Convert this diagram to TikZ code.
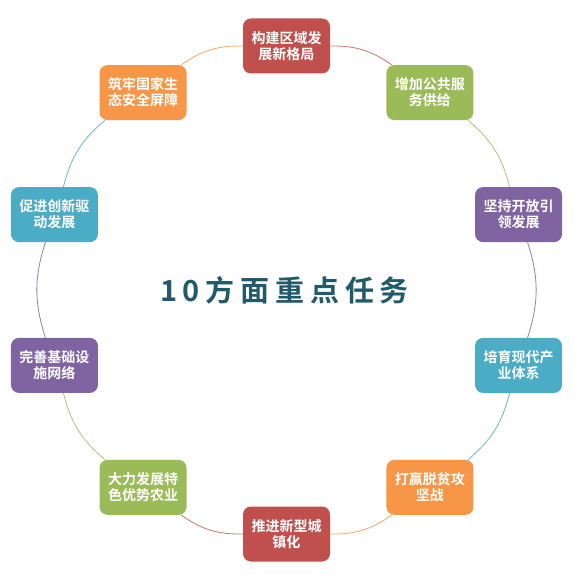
\documentclass[tikz,border=0pt]{standalone}
\usepackage{fontspec}
\newfontfamily\cjk{Noto Sans CJK SC}
\newfontfamily\cjkb{Noto Sans CJK SC Bold}
\definecolor{cred}{HTML}{C0504D}
\definecolor{cgreen}{HTML}{9BBB59}
\definecolor{cpurple}{HTML}{8064A2}
\definecolor{cteal}{HTML}{4BACC6}
\definecolor{corange}{HTML}{F79646}
\definecolor{ctitle}{HTML}{215A6A}
\begin{document}
\begin{tikzpicture}[x=1pt,y=1pt,
  taskbox/.style={rounded corners=8pt, minimum width=87pt, minimum height=55pt,
    inner sep=2pt, align=center, text=white, font=\cjkb\fontsize{14}{16}\selectfont},
  link/.style={line width=0.8pt, bend left=18}]
\useasboundingbox (-286.5,-285) rectangle (288.5,290);
\node[taskbox, fill=cred]    (n1)  at (90:244)  {构建区域发\\展新格局};
\node[taskbox, fill=cgreen]  (n2)  at (54:244)  {增加公共服\\务供给};
\node[taskbox, fill=cpurple] (n3)  at (18:244)  {坚持开放引\\领发展};
\node[taskbox, fill=cteal]   (n4)  at (-18:244) {培育现代产\\业体系};
\node[taskbox, fill=corange] (n5)  at (-54:244) {打赢脱贫攻\\坚战};
\node[taskbox, fill=cred]    (n6)  at (-90:244) {推进新型城\\镇化};
\node[taskbox, fill=cgreen]  (n7)  at (-126:244) {大力发展特\\色优势农业};
\node[taskbox, fill=cpurple] (n8)  at (-162:244) {完善基础设\\施网络};
\node[taskbox, fill=cteal]   (n9)  at (162:244) {促进创新驱\\动发展};
\node[taskbox, fill=corange] (n10) at (126:244) {筑牢国家生\\态安全屏障};
\draw[link, cred!80]    (n1) to (n2);
\draw[link, cgreen!85]  (n2) to (n3);
\draw[link, cpurple!85] (n3) to (n4);
\draw[link, cteal!85]   (n4) to (n5);
\draw[link, corange!85] (n5) to (n6);
\draw[link, cred!80]    (n6) to (n7);
\draw[link, cgreen!85]  (n7) to (n8);
\draw[link, cpurple!85] (n8) to (n9);
\draw[link, cteal!85]   (n9) to (n10);
\draw[link, corange!85] (n10) to (n1);
\node[text=ctitle, font=\cjkb\fontsize{29}{32}\selectfont\addfontfeature{LetterSpace=20}] (title) at (-2,0) {10方面重点任务};
\end{tikzpicture}
\end{document}
